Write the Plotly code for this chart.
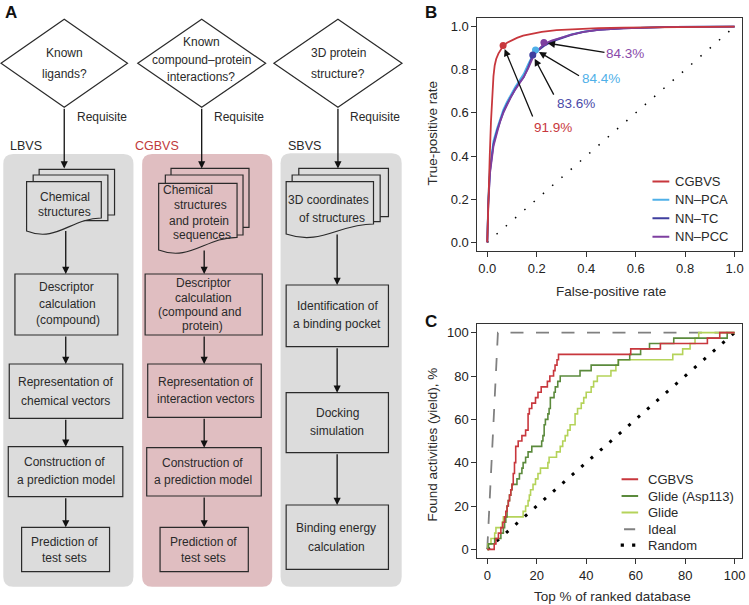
import plotly.graph_objects as go

FONT = "Liberation Sans, Arial, Helvetica, sans-serif"
INK = "#2a2a2a"

# ---------------- Panel B : ROC curves ----------------
cgbvs_fpr = [0, 0.003, 0.006, 0.01, 0.015, 0.02, 0.025, 0.03, 0.036, 0.045, 0.055, 0.064,
             0.08, 0.1, 0.12, 0.145, 0.18, 0.22, 0.28, 0.35, 0.45, 0.55, 0.7, 0.85, 1.0]
cgbvs_tpr = [0, 0.15, 0.28, 0.4, 0.56, 0.69, 0.77, 0.82, 0.85, 0.875, 0.895, 0.91,
             0.925, 0.938, 0.948, 0.958, 0.968, 0.976, 0.984, 0.989, 0.993, 0.995, 0.997, 0.999, 1.0]
nn_fpr = [0, 0.004, 0.011, 0.025, 0.04, 0.052, 0.065, 0.079, 0.095, 0.113, 0.13, 0.147, 0.165,
          0.184, 0.2, 0.215, 0.229, 0.26, 0.296, 0.34, 0.39, 0.45, 0.55, 0.65, 0.75, 1.0]
nn_pca_tpr = [0, 0.2, 0.35, 0.47, 0.53, 0.575, 0.615, 0.65, 0.685, 0.72, 0.75, 0.78, 0.825,
              0.87, 0.89, 0.905, 0.915, 0.933, 0.948, 0.964, 0.977, 0.986, 0.993, 0.997, 0.999, 1.0]
nn_tc_tpr = [0, 0.18, 0.33, 0.455, 0.52, 0.565, 0.605, 0.64, 0.675, 0.71, 0.74, 0.765, 0.81,
             0.868, 0.885, 0.9, 0.91, 0.93, 0.946, 0.962, 0.976, 0.985, 0.992, 0.996, 0.999, 1.0]
nn_pcc_tpr = [0, 0.17, 0.32, 0.445, 0.51, 0.56, 0.6, 0.635, 0.672, 0.708, 0.738, 0.765, 0.805,
              0.855, 0.885, 0.905, 0.92, 0.935, 0.948, 0.963, 0.976, 0.985, 0.992, 0.996, 0.999, 1.0]

roc_names = ["CGBVS", "NN\u2013PCA", "NN\u2013TC", "NN\u2013PCC"]
roc_colors = ["#c8373d", "#4fb0e8", "#3f3f9f", "#7e3fa0"]
op_fpr = [0.064, 0.195, 0.184, 0.229]
op_tpr = [0.913, 0.892, 0.868, 0.926]
op_labels = ["91.9%", "84.4%", "83.6%", "84.3%"]
op_label_colors = ["#c8373d", "#4fb0e8", "#4a4aa8", "#8a4aaa"]
op_label_pos = [(0.265, 0.532), (0.458, 0.760), (0.358, 0.644), (0.558, 0.876)]
op_arrow_tail = [(0.186, 0.577), (0.377, 0.768), (0.272, 0.678), (0.480, 0.880)]
roc_ticks = [0, 0.2, 0.4, 0.6, 0.8, 1.0]

# ---------------- Panel C : yield curves ----------------
cg_x = [0, 2.8, 3.5, 4.5, 5.5, 6.3, 7.0, 7.5, 8.0, 8.5, 9.0, 9.5, 10.0, 10.5, 11.0, 11.5, 12.5,
        14.0, 15.5, 16.5, 17.0, 18.0, 19.5, 20.5, 21.8, 24.3, 25.3, 26.8, 27.4, 28.2, 28.8,
        58.0, 70.0, 89.0, 94.0, 100]
cg_y = [0, 2.5, 5, 7.5, 10, 12.5, 15, 17.5, 20, 22.5, 25, 27.5, 30, 35, 40, 47.5, 50, 52.5,
        55, 62.5, 65, 67.5, 70, 72.5, 75, 77.5, 80, 82.5, 85, 87.5, 90, 92.5, 95, 97.5, 100, 100]
ga_x = [0, 0.5, 3.0, 5.5, 6.5, 7.0, 7.5, 8.0, 8.5, 9.0, 9.5, 10.0, 12.0, 13.0, 14.0, 14.5, 15.5,
        16.5, 18.0, 22.0, 22.5, 23.0, 23.5, 24.5, 25.0, 25.5, 27.0, 27.5, 28.5, 29.5, 37.5, 42.0,
        53.0, 57.6, 62.0, 65.6, 75.4, 97.0, 100]
ga_y = [0, 2.5, 5, 7.5, 10, 12.5, 15, 20, 22.5, 25, 27.5, 30, 32.5, 35, 37.5, 40, 42.5, 45, 47.5,
        50, 52.5, 57.5, 60, 62.5, 65, 70, 72.5, 75, 77.5, 80, 82.5, 85, 87.5, 90, 92.5, 95, 97.5,
        100, 100]
gl_x = [0, 0.3, 1.5, 3.0, 3.5, 6.0, 6.5, 14.5, 15.5, 16.5, 17.0, 17.5, 18.5, 19.5, 20.5, 21.5,
        24.5, 25.0, 28.0, 29.5, 30.5, 31.5, 32.5, 33.5, 35.5, 36.5, 38.0, 39.0, 40.0, 42.0, 43.0,
        44.5, 50.0, 52.0, 53.0, 75.0, 79.0, 82.0, 84.0, 85.5, 100]
gl_y = [0, 2.5, 5, 7.5, 10, 12.5, 15, 17.5, 20, 22.5, 25, 27.5, 30, 32.5, 35, 37.5, 40, 42.5,
        45, 47.5, 50, 52.5, 55, 57.5, 62.5, 65, 67.5, 70, 72.5, 75, 77.5, 80, 82.5, 85, 87.5,
        90, 92.5, 95, 97.5, 100, 100]
ideal_x = [0, 4.3, 100]
ideal_y = [0, 100, 100]
random_x = [0, 100]
random_y = [0, 100]
yield_names = ["CGBVS", "Glide (Asp113)", "Glide", "Ideal", "Random"]
yield_colors = ["#c8373d", "#5b8a3c", "#b5d35a", "#808080", "#000000"]
yield_ticks = [0, 20, 40, 60, 80, 100]

# ---------------- Panel A : flowchart text ----------------
col_titles = [("LBVS", 8.3, INK), ("CGBVS", 133.3, "#c0393b"), ("SBVS", 286.7, INK)]
a_texts = [
    ("Known", 64.5, 52.7), ("ligands?", 64.5, 74),
    ("Known", 202, 41.7), ("compound\u2013protein", 202, 60), ("interactions?", 202, 77.3),
    ("3D protein", 339.5, 53.3), ("structure?", 339.5, 74),
    ("Chemical", 65, 196.7), ("structures", 65, 212.3),
    ("Chemical", 189, 190.2), ("structures", 201.7, 205), ("and protein", 199.7, 220.5),
    ("sequences", 203.3, 235),
    ("3D coordinates", 330, 200), ("of structures", 333, 217.7),
    ("Descriptor", 67, 287.3), ("calculation", 67.5, 304), ("(compound)", 68.5, 320),
    ("Representation of", 65.3, 381.7), ("chemical vectors", 65.3, 400.7),
    ("Construction of", 64.5, 462.3), ("a prediction model", 65.8, 480),
    ("Prediction of", 64.7, 542.3), ("test sets", 65, 558.3),
    ("Descriptor", 204.5, 282.7), ("calculation", 204.5, 297.5), ("(compound and", 200, 311.7),
    ("protein)", 203.3, 326),
    ("Representation of", 206.5, 381.7), ("interaction vectors", 206.5, 399.3),
    ("Construction of", 203.5, 463), ("a prediction model", 204.3, 480),
    ("Prediction of", 204, 542.3), ("test sets", 204, 557.7),
    ("Identification of", 338.5, 305.7), ("a binding pocket", 338.7, 324),
    ("Docking", 339, 413.3), ("simulation", 338.7, 431),
    ("Binding energy", 337.8, 528.3), ("calculation", 338, 547.3),
]

GRAY = "#dcdcdc"
PINK = "#e0bec1"

fig = go.Figure()

# dummy trace to anchor the full-canvas diagram axes
fig.add_trace(go.Scatter(x=[], y=[], xaxis="x3", yaxis="y3", showlegend=False, hoverinfo="skip"))

# ---- B traces ----
fig.add_trace(go.Scatter(x=[0, 1], y=[0, 1], mode="lines", xaxis="x", yaxis="y",
                         line=dict(color="black", width=1.5, dash="1.5px,10.8px"),
                         hoverinfo="skip", showlegend=False))
roc_tpr = {"CGBVS": cgbvs_tpr, "NN\u2013PCA": nn_pca_tpr, "NN\u2013TC": nn_tc_tpr, "NN\u2013PCC": nn_pcc_tpr}
roc_fpr = {"CGBVS": cgbvs_fpr, "NN\u2013PCA": nn_fpr, "NN\u2013TC": nn_fpr, "NN\u2013PCC": nn_fpr}
for idx in [1, 2, 3, 0]:
    nm = roc_names[idx]
    fig.add_trace(go.Scatter(x=roc_fpr[nm], y=roc_tpr[nm], mode="lines", name=nm,
                             xaxis="x", yaxis="y", line=dict(color=roc_colors[idx], width=1.8),
                             showlegend=False))
for i in range(4):
    fig.add_trace(go.Scatter(x=[op_fpr[i]], y=[op_tpr[i]], mode="markers", xaxis="x", yaxis="y",
                             marker=dict(color=roc_colors[i], size=7), showlegend=False,
                             hoverinfo="skip"))

# ---- C traces ----
fig.add_trace(go.Scatter(x=random_x, y=random_y, mode="lines", xaxis="x2", yaxis="y2",
                         line=dict(color="black", width=3, dash="3px,9.5px"), showlegend=False))
fig.add_trace(go.Scatter(x=ideal_x, y=ideal_y, mode="lines", xaxis="x2", yaxis="y2",
                         line=dict(color=yield_colors[3], width=1.8, dash="13px,12.5px"),
                         showlegend=False))
for xs, ys, col in [(gl_x, gl_y, yield_colors[2]), (ga_x, ga_y, yield_colors[1]),
                    (cg_x, cg_y, yield_colors[0])]:
    fig.add_trace(go.Scatter(x=xs, y=ys, mode="lines", line_shape="hv", xaxis="x2", yaxis="y2",
                             line=dict(color=col, width=1.6), showlegend=False))

shapes = []
ann = []


def txt(t, x, y, xref="x3", yref="y3", size=12, color=INK, xanchor="center", bold=False, angle=0):
    ann.append(dict(text=("<b>%s</b>" % t) if bold else t, x=x, y=y, xref=xref, yref=yref,
                    showarrow=False, xanchor=xanchor, yanchor="middle", textangle=angle,
                    font=dict(family=FONT, size=size, color=color)))


def arrow(x, y, ax, ay, xref="x3", yref="y3", standoff=0):
    ann.append(dict(text="", x=x, y=y, ax=ax, ay=ay, xref=xref, yref=yref,
                    axref=xref, ayref=yref, showarrow=True, arrowhead=2, arrowsize=1.1,
                    arrowwidth=1.3, arrowcolor="#111", standoff=standoff))


def rrect(x0, y0, x1, y1, r, fill):
    p = (f"M{x0+r},{y0} L{x1-r},{y0} Q{x1},{y0} {x1},{y0+r} L{x1},{y1-r} Q{x1},{y1} {x1-r},{y1} "
         f"L{x0+r},{y1} Q{x0},{y1} {x0},{y1-r} L{x0},{y0+r} Q{x0},{y0} {x0+r},{y0} Z")
    shapes.append(dict(type="path", path=p, xref="x3", yref="y3", fillcolor=fill,
                       line=dict(width=0)))


def box(x0, y0, x1, y1, fill="rgba(0,0,0,0)"):
    shapes.append(dict(type="rect", x0=x0, y0=y0, x1=x1, y1=y1, xref="x3", yref="y3",
                       fillcolor=fill, line=dict(color=INK, width=1.2)))


def diamond(cx, cy, hw, hh):
    p = f"M{cx-hw},{cy} L{cx},{cy-hh} L{cx+hw},{cy} L{cx},{cy+hh} Z"
    shapes.append(dict(type="path", path=p, xref="x3", yref="y3", fillcolor="white",
                       line=dict(color=INK, width=1.2)))


def doc(xl, yt, xr, yl, yr, fill):
    w = xr - xl
    p = (f"M{xl},{yt} L{xr},{yt} L{xr},{yr} C{xr-0.4*w},{yr} {xl+0.4*w},{yl+12} {xl},{yl} Z")
    shapes.append(dict(type="path", path=p, xref="x3", yref="y3", fillcolor=fill,
                       line=dict(color=INK, width=1.2)))


# backgrounds
rrect(3.3, 154, 134, 586.7, 10, GRAY)
rrect(142.7, 154, 273.3, 586.7, 10, PINK)
rrect(281.7, 153.3, 403.3, 586.7, 10, GRAY)

# diamonds
diamond(64.5, 63.3, 63.5, 44)
diamond(202.5, 63.3, 64.2, 44)
diamond(339.3, 63.3, 64.3, 44)

# document stacks
box(39.3, 169.3, 115, 215, GRAY)
box(33.3, 175, 108.3, 220.7, GRAY)
doc(26.7, 181.7, 101.7, 231, 218, GRAY)
box(171.7, 168.3, 250, 227.3, PINK)
box(166, 175, 244, 235, PINK)
doc(159.3, 183.3, 238, 250, 237.3, PINK)
box(300, 168.3, 390, 216.7, GRAY)
box(293.3, 175, 381.7, 221.7, GRAY)
doc(287.3, 181.7, 375, 234, 224, GRAY)

# process boxes
box(15, 274, 118.3, 335)
box(9.3, 364, 123.3, 418.3)
box(8.3, 446.7, 123.3, 496.7)
box(21.7, 527.3, 110, 571.7)
box(145.7, 274, 263.3, 335)
box(148.3, 364, 262.3, 417.3)
box(147.3, 447.7, 262.3, 496)
box(160.7, 527.3, 249.3, 571.7)
box(287.3, 285, 390, 346.7)
box(287.3, 392.7, 390, 452.7)
box(287.3, 505, 390, 569.3)

# arrows in flowchart
for cx in (64.5, 202.5, 339.3):
    arrow(cx, 168.5, cx, 107.3)
arrow(66, 274, 66, 229.5)
arrow(205, 274, 205, 249)
arrow(338.5, 285, 338.5, 233)
for (y0, y1) in [(335, 364), (418.3, 446.7), (496.7, 527.3)]:
    arrow(66, y1, 66, y0)
for (y0, y1) in [(335, 364), (417.3, 447.7), (496, 527.3)]:
    arrow(205, y1, 205, y0)
for (y0, y1) in [(346.7, 392.7), (452.7, 505)]:
    arrow(338.5, y1, 338.5, y0)

for t, x, y in a_texts:
    txt(t, x, y)
for x in (75, 213.3, 349.3):
    txt("Requisite", x, 116.7, xanchor="left")
for t, x, c in col_titles:
    txt(t, x, 145.7, xanchor="left", color=c, size=12.5)

# panel letters
txt("A", 3, 12.5, xanchor="left", size=17, bold=True, color="#111")
txt("B", 425, 12.5, xanchor="left", size=17, bold=True, color="#111")
txt("C", 424.5, 321, xanchor="left", size=17, bold=True, color="#111")

# axis titles
txt("False-positive rate", 613, 291.7, size=13.5)
txt("True-positive rate", 433.3, 133, size=13.5, angle=-90)
txt("Top % of ranked database", 615, 596, size=13.5)
txt("Found activities (yield), %", 433.3, 445, size=13.5, angle=-90)

# B: arrows and percentage labels
for i in range(4):
    arrow(op_fpr[i], op_tpr[i], op_arrow_tail[i][0], op_arrow_tail[i][1], xref="x", yref="y",
          standoff=4)
    txt(op_labels[i], op_label_pos[i][0], op_label_pos[i][1], xref="x", yref="y", size=13.5,
        color=op_label_colors[i])

# B legend
b_rows = [0.282, 0.197, 0.112, 0.0265]
for i in range(4):
    shapes.append(dict(type="line", x0=0.668, x1=0.736, y0=b_rows[i], y1=b_rows[i], xref="x",
                       yref="y", line=dict(color=roc_colors[i], width=2)))
    txt(roc_names[i], 0.752, b_rows[i], xref="x", yref="y", size=13, xanchor="left")

# C legend
c_rows = [32.4, 24.6, 17.0, 9.3, 1.9]
for i in range(3):
    shapes.append(dict(type="line", x0=54.3, x1=61.0, y0=c_rows[i], y1=c_rows[i], xref="x2",
                       yref="y2", line=dict(color=yield_colors[i], width=2)))
shapes.append(dict(type="line", x0=55.3, x1=59.8, y0=c_rows[3], y1=c_rows[3], xref="x2",
                   yref="y2", line=dict(color=yield_colors[3], width=2)))
fig.add_trace(go.Scatter(x=[54.6, 59.2], y=[c_rows[4], c_rows[4]], mode="markers", xaxis="x2",
                         yaxis="y2", marker=dict(color="black", size=3.2, symbol="square"),
                         showlegend=False, hoverinfo="skip"))
for i in range(5):
    txt(yield_names[i], 64.0, c_rows[i], xref="x2", yref="y2", size=13, xanchor="left")

axis_style = dict(showline=True, mirror=True, linecolor="#333", linewidth=1, ticks="outside",
                  ticklen=5, tickwidth=1, tickcolor="#333", showgrid=False, zeroline=False,
                  tickfont=dict(family=FONT, size=13, color="#222"), fixedrange=True)

xdom = [479.3 / 749, 745 / 749]
fig.update_layout(
    width=749, height=605, margin=dict(l=0, r=0, t=0, b=0),
    paper_bgcolor="white", plot_bgcolor="rgba(0,0,0,0)", showlegend=False,
    xaxis=dict(domain=xdom, range=[-0.04, 1.03], anchor="y", tickvals=roc_ticks,
               ticktext=["%.1f" % v for v in roc_ticks], **axis_style),
    yaxis=dict(domain=[1 - 251 / 605, 1 - 18 / 605], range=[-0.04, 1.04], anchor="x",
               tickvals=roc_ticks, ticktext=["%.1f" % v for v in roc_ticks], **axis_style),
    xaxis2=dict(domain=xdom, range=[-4, 103], anchor="y2", tickvals=yield_ticks, **axis_style),
    yaxis2=dict(domain=[1 - 558 / 605, 1 - 324 / 605], range=[-4, 104], anchor="x2",
                tickvals=yield_ticks, **axis_style),
    xaxis3=dict(domain=[0, 1], range=[0, 749], visible=False, anchor="y3", fixedrange=True),
    yaxis3=dict(domain=[0, 1], range=[605, 0], visible=False, anchor="x3", fixedrange=True),
    shapes=shapes, annotations=ann,
)

fig.write_html("out.html", config={"displayModeBar": False},
               post_script="document.body.style.margin='0';document.body.style.padding='0';"
                           "document.documentElement.style.overflow='hidden';")
